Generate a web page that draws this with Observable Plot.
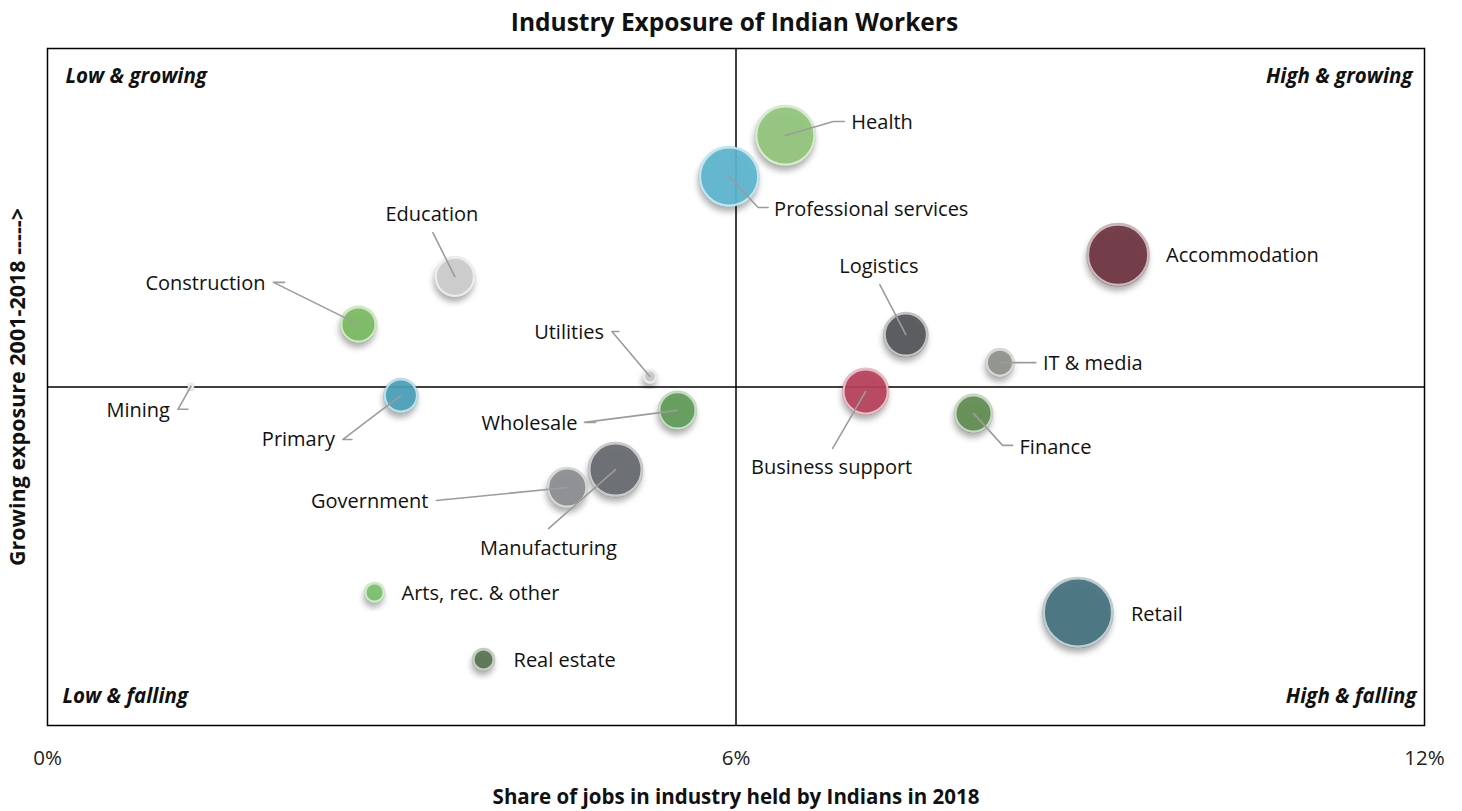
<!DOCTYPE html>
<html>
<head>
<meta charset="utf-8">
<script src="https://cdn.jsdelivr.net/npm/d3@7"></script>
<script src="https://cdn.jsdelivr.net/npm/@observablehq/plot@0.6"></script>
<style>
  body { margin: 0; background: #fff; font-family: "Open Sans", sans-serif; }
  #title { width: 1455px; padding-left: 7px; height: 40px; line-height: 44px; overflow: visible;
           text-align: center; font-weight: 700; font-size: 24.5px; color: #111; }
</style>
</head>
<body>
<div id="title">Industry Exposure of Indian Workers</div>
<div id="chart"></div>
<script>
// ---- data ----
const categories = ["Health","Professional services","Accommodation","Retail","Education","Construction",
  "Utilities","Mining","Primary","Wholesale","Government","Manufacturing","Logistics","IT & media",
  "Business support","Finance","Arts, rec. & other","Real estate"];
// share of jobs in industry held by Indians in 2018 (%)
const shareJobs = [6.43, 5.94, 9.33, 8.98, 3.55, 2.71, 5.25, 1.25, 3.08, 5.49, 4.53, 4.95, 7.48, 8.30, 7.13, 8.07, 2.85, 3.80];
// growing exposure 2001-2018 (relative index)
const exposure = [74.3, 62.2, 39.1, -66.6, 32.6, 18.5, 3.1, 0.2, -2.5, -6.9, -29.7, -24.4, 15.5, 7.2, -1.3, -7.8, -60.7, -80.5];
// relative industry size (bubble area)
const industrySize = [841, 841, 900, 1156, 361, 289, 36, 4, 256, 324, 361, 676, 441, 169, 484, 324, 81, 100];
const xTicks = [0, 6, 12];
const quadrantLabels = ["Low & growing", "High & growing", "Low & falling", "High & falling"];

// ---- styles / layout ----
const palette = ["#90c47c","#5bb5cd","#6b3540","#44707e","#cbcbcb","#7aba62",
  "#c8c8c8","#d8c8cc","#4aa0b9","#5f9b58","#8a8c90","#65686c","#535559","#8e908a",
  "#b6405a","#5e8c50","#7bbf6b","#56734f"];
// label anchor offset (px) from bubble centre, text anchor, leader points offsets (px)
const labelLayout = {
  "Health": {dx: 66, dy: -13, anchor: "start", leader: [[48,-14],[59,-14]]},
  "Professional services": {dx: 45, dy: 33, anchor: "start", leader: [[29,31],[39,31]]},
  "Accommodation": {dx: 48, dy: 1, anchor: "start", leader: []},
  "Retail": {dx: 53, dy: 2, anchor: "start", leader: []},
  "Education": {dx: -23, dy: -62, anchor: "middle", leader: [[-22,-44]]},
  "Construction": {dx: -93, dy: -41, anchor: "end", leader: [[-85,-42],[-74,-42]]},
  "Utilities": {dx: -46, dy: -44, anchor: "end", leader: [[-38,-45],[-31,-45]]},
  "Mining": {dx: -21, dy: 24, anchor: "end", leader: [[-13,23],[-3,23]]},
  "Primary": {dx: -66, dy: 44, anchor: "end", leader: [[-58,44],[-49,44]]},
  "Wholesale": {dx: -100, dy: 13, anchor: "end", leader: [[-93,12],[-82,12]]},
  "Government": {dx: -139, dy: 14, anchor: "end", leader: [[-131,13],[-121,12]]},
  "Manufacturing": {dx: -67, dy: 79, anchor: "middle", leader: [[-67,59]]},
  "Logistics": {dx: -27, dy: -68, anchor: "middle", leader: [[-26,-50]]},
  "IT & media": {dx: 43, dy: 1, anchor: "start", leader: [[36,0]]},
  "Business support": {dx: -34, dy: 76, anchor: "middle", leader: [[-33,57]]},
  "Finance": {dx: 46, dy: 34, anchor: "start", leader: [[29,32],[39,32]]},
  "Arts, rec. & other": {dx: 27, dy: 1, anchor: "start", leader: []},
  "Real estate": {dx: 30, dy: 1, anchor: "start", leader: []}
};

const W = 1462, H = 771, mT = 8, mB = 86, mL = 47, mR = 38;
const xDomain = [0, 12], yDomain = [-100, 100];
const xs = Plot.scale({x: {domain: xDomain, range: [mL, W - mR]}});
const ys = Plot.scale({y: {domain: yDomain, range: [H - mB, mT]}});

const data = categories.map((name, i) => ({name, x: shareJobs[i], y: exposure[i], size: industrySize[i]}));
const labels = data.map(d => {
  const L = labelLayout[d.name];
  const px = xs.apply(d.x), py = ys.apply(d.y);
  return {name: d.name, anchor: L.anchor, x: xs.invert(px + L.dx), y: ys.invert(py + L.dy)};
});
const leaders = [];
data.forEach(d => {
  const L = labelLayout[d.name];
  if (!L.leader.length) return;
  const px = xs.apply(d.x), py = ys.apply(d.y);
  const pts = [...L.leader].reverse();
  pts.forEach(([ox, oy]) => leaders.push({name: d.name, x: xs.invert(px + ox), y: ys.invert(py + oy)}));
  leaders.push({name: d.name, x: d.x, y: d.y});
});

const textOpts = {fontSize: 20, fontFamily: "Open Sans", fill: "#111"};
const cornerOpts = {text: d => d, fontWeight: "bold", fontStyle: "italic", fontSize: 20.5, fill: "#111"};

const plot = Plot.plot({
  width: W, height: H,
  marginTop: mT, marginBottom: mB, marginLeft: mL, marginRight: mR,
  style: {fontFamily: "Open Sans", background: "#fff", overflow: "visible"},
  x: {domain: xDomain},
  y: {domain: yDomain, axis: null},
  r: {type: "sqrt", domain: [0, d3.max(industrySize)], range: [0, 34]},
  color: {domain: categories, range: palette},
  marks: [
    Plot.ruleX([6], {stroke: "#000", strokeWidth: 1.5}),
    Plot.ruleY([0], {stroke: "#000", strokeWidth: 1.5}),
    Plot.frame({stroke: "#000", strokeWidth: 1.5}),
    Plot.axisX({ticks: xTicks, tickFormat: d => d + "%", tickSize: 0, tickPadding: 25, fontSize: 20.5, label: null, fill: "#222"}),
    Plot.dot(data, {x: "x", y: "y", r: "size", fill: "name", fillOpacity: 0.92, stroke: "#fff", strokeWidth: 2}),
    Plot.dot(data, {x: "x", y: "y", r: "size", fill: "none", stroke: "name", strokeOpacity: 0.35, strokeWidth: 3.6}),
    Plot.line(leaders, {x: "x", y: "y", z: "name", stroke: "#9c9c9c", strokeWidth: 1.6, curve: "linear"}),
    Plot.text(labels.filter(d => d.anchor === "start"), {x: "x", y: "y", text: "name", textAnchor: "start", ...textOpts}),
    Plot.text(labels.filter(d => d.anchor === "end"), {x: "x", y: "y", text: "name", textAnchor: "end", ...textOpts}),
    Plot.text(labels.filter(d => d.anchor === "middle"), {x: "x", y: "y", text: "name", textAnchor: "middle", ...textOpts}),
    Plot.text([quadrantLabels[0]], {frameAnchor: "top-left", dx: 18, dy: 20, textAnchor: "start", ...cornerOpts}),
    Plot.text([quadrantLabels[1]], {frameAnchor: "top-right", dx: -12, dy: 20, textAnchor: "end", ...cornerOpts}),
    Plot.text([quadrantLabels[2]], {frameAnchor: "bottom-left", dx: 15, dy: -23, textAnchor: "start", ...cornerOpts}),
    Plot.text([quadrantLabels[3]], {frameAnchor: "bottom-right", dx: -8, dy: -23, textAnchor: "end", ...cornerOpts}),
    Plot.text(["Share of jobs in industry held by Indians in 2018"], {frameAnchor: "bottom", dy: 78, text: d => d, textAnchor: "middle", fontWeight: "bold", fontSize: 20.5, fill: "#111"}),
    Plot.text(["Growing exposure 2001-2018 ----->"], {frameAnchor: "left", dx: -29, rotate: -90, text: d => d, textAnchor: "middle", fontWeight: "bold", fontSize: 21.5, fill: "#111"})
  ]
});
document.getElementById("chart").appendChild(plot);

const svg = d3.select(plot);
// drop shadow on bubbles
const defs = svg.insert("defs", ":first-child");
const f = defs.append("filter").attr("id", "bubbleShadow").attr("x", "-50%").attr("y", "-50%").attr("width", "200%").attr("height", "200%");
f.append("feDropShadow").attr("dx", -1).attr("dy", 5).attr("stdDeviation", 3).attr("flood-color", "#000").attr("flood-opacity", 0.35);
const dotGroups = svg.selectAll('g[aria-label="dot"]').nodes();
if (dotGroups.length) d3.select(dotGroups[0]).selectAll("circle").attr("filter", "url(#bubbleShadow)");
</script>
</body>
</html>
